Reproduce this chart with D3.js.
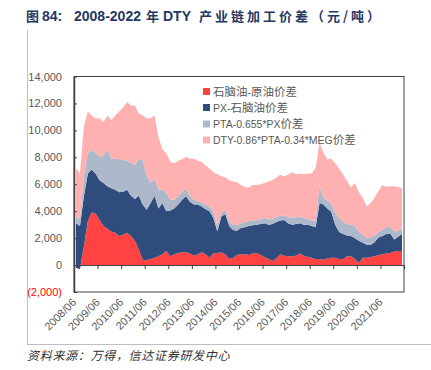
<!DOCTYPE html>
<html>
<head>
<meta charset="utf-8">
<script src="https://cdn.jsdelivr.net/npm/d3@7"></script>
<style>
body { margin: 0; background: #fff; }
svg { display: block; font-family: "Liberation Sans", Arial, "Noto Sans CJK SC", sans-serif; }
</style>
</head>
<body>
<div id="chart"></div>
<script>
// Width and height
var chart_width  = 431;
var chart_height = 370;

// Data (元/吨), one point every two months from 2008/06 to 2022/06
var series_names = ['石脑油-原油价差', 'PX-石脑油价差', 'PTA-0.655*PX价差', 'DTY-0.86*PTA-0.34*MEG价差'];
var series_colors = ['#FF4343', '#2F4C7C', '#ADB9CB', '#FFB0B0'];

var naphtha_crude = [
  -200, -300, 1400, 3250, 3900, 3850, 3350, 2900, 2700, 2500, 2400, 2150, 2250, 2400, 2150, 1800,
  1150, 400, 350, 450, 550, 650, 800, 1050, 650, 800, 900, 950, 950, 850, 700, 800,
  950, 800, 550, 850, 900, 950, 800, 450, 550, 750, 800, 800, 750, 850, 900, 750,
  600, 450, 300, 500, 800, 700, 650, 650, 700, 850, 700, 600, 550, 450, 450, 400,
  500, 550, 550, 450, 450, 650, 650, 450, 150, 550, 550, 600, 650, 750, 800, 850,
  900, 1000, 1050, 1050, 1000
];
var px_naphtha = [
  3300, 3200, 3700, 3550, 3200, 2950, 2950, 3200, 3150, 3200, 3200, 3250, 3200, 3200, 3000, 3100,
  4000, 4100, 3750, 4150, 4600, 3550, 3800, 2950, 3400, 3400, 3600, 3900, 4150, 3850, 3800, 3700,
  3400, 3350, 3450, 2650, 1600, 2650, 3000, 2450, 2050, 1800, 1950, 2000, 2150, 2100, 2100, 2300,
  2500, 2550, 2750, 2700, 2500, 2650, 2450, 2350, 2350, 2250, 2300, 2400, 2350, 2350, 4150, 4100,
  3700, 3400, 2450, 2000, 1850, 1550, 1500, 1550, 1650, 1100, 950, 900, 1050, 1300, 1350, 1450,
  1450, 900, 1050, 1250, 1500
];
var pta_px = [
  500, 500, 1500, 1500, 1400, 1600, 1700, 2050, 2750, 2200, 2300, 2450, 2350, 2150, 2450, 2550,
  2750, 3300, 2600, 1500, 1300, 1400, 1000, 1350, 800, 650, 600, 600, 600, 400, 350, 250,
  300, 350, 350, 500, 400, 300, 300, 350, 400, 400, 350, 400, 350, 350, 350, 350,
  400, 400, 350, 400, 350, 350, 450, 500, 500, 500, 500, 450, 400, 500, 1300, 500,
  550, 600, 900, 1050, 900, 850, 850, 900, 700, 600, 500, 550, 500, 400, 450, 500,
  500, 600, 450, 400, 400
];
var dty_pta_meg = [
  3600, 3400, 3700, 3100, 2600, 2500, 2900, 2450, 2500, 2850, 3200, 3550, 3900, 4350, 4250, 4400,
  3350, 3300, 4200, 4800, 4650, 3900, 3000, 2950, 2850, 2700, 2650, 2400, 2350, 2800, 3050, 3000,
  3000, 2900, 2800, 2900, 3850, 2700, 2400, 3050, 3200, 3200, 2850, 2600, 2500, 2650, 2600, 2600,
  2600, 2800, 2900, 2900, 3050, 2900, 3150, 3400, 3200, 3200, 3250, 3350, 3500, 3900, 3200, 3300,
  3100, 3350, 3650, 3650, 3500, 3200, 2750, 3200, 2900, 2750, 2350, 2550, 2800, 3050, 3350, 3000,
  3000, 3350, 3250, 3000, 2550
];
var series_values = [naphtha_crude, px_naphtha, pta_px, dty_pta_meg];

var dates = d3.timeMonth.every(2).range(new Date(2008, 5, 1), new Date(2022, 6, 1));

var x_labels = ['2008/06', '2009/06', '2010/06', '2011/06', '2012/06', '2013/06', '2014/06',
                '2015/06', '2016/06', '2017/06', '2018/06', '2019/06', '2020/06', '2021/06'];
var y_ticks  = [-2000, 0, 2000, 4000, 6000, 8000, 10000, 12000, 14000];

// Scales
var x = d3.scaleTime()
  .domain([new Date(2008, 5, 1), new Date(2022, 5, 1)])
  .range([74, 404]);
var y = d3.scaleLinear()
  .domain([-2000, 14000])
  .range([292, 76.5]);

var svg = d3.select('#chart')
  .append('svg')
  .attr('width', chart_width)
  .attr('height', chart_height);

// splits a label into CJK / latin runs so the CJK glyphs can be a bit larger
function runs(str){
  var out = [], re = /[\u3000-\u9fff\uff00-\uffef]+|[^\u3000-\u9fff\uff00-\uffef]+/g, m;
  while((m = re.exec(str)) !== null){
    out.push({ t: m[0], cjk: /[\u3000-\u9fff\uff00-\uffef]/.test(m[0]) });
  }
  return out;
}

// Title (pieces placed like the original, CJK is spaced wider)
var title_parts = [
  { t: '图', x: 26, cjk: true },
  { t: '84:', x: 42, cjk: false },
  { t: '2008-2022', x: 74, cjk: false },
  { t: '年', x: 146, cjk: true },
  { t: 'DTY', x: 163, cjk: false },
  { t: '产业链加工价差', x: 199, cjk: true },
  { t: '（元/吨）', x: 311, cjk: true }
];
var title = svg.append('text')
  .attr('y', 21)
  .attr('font-weight', 'bold')
  .attr('fill', '#1F3864');
title.selectAll('tspan')
  .data(title_parts)
  .enter()
  .append('tspan')
  .attr('x', function(d){ return d.x; })
  .attr('font-size', function(d){ return d.cjk ? 13 : 14; })
  .attr('letter-spacing', function(d){ return d.cjk ? 3 : 0; })
  .attr('font-family', function(d){ return d.cjk ? '"Noto Sans CJK SC", sans-serif' : '"Liberation Sans", Arial, sans-serif'; })
  .text(function(d){ return d.t; });

// outer frame lines
svg.append('line')
  .attr('x1', 27.5).attr('x2', 27.5)
  .attr('y1', 30).attr('y2', 345)
  .attr('stroke', '#BFBFBF');
svg.append('line')
  .attr('x1', 27).attr('x2', 431)
  .attr('y1', 344.5).attr('y2', 344.5)
  .attr('stroke', '#BFBFBF');

// Stack
var rows = dates.map(function(d, i){
  var r = { date: d };
  series_names.forEach(function(n, j){ r[n] = series_values[j][i]; });
  return r;
});
var stacked = d3.stack().keys(series_names)(rows);

var area = d3.area()
  .x(function(d){ return x(d.data.date); })
  .y0(function(d){ return y(d[0]); })
  .y1(function(d){ return y(d[1]); });

svg.append('g')
  .selectAll('path')
  .data(stacked)
  .enter()
  .append('path')
  .attr('d', area)
  .attr('fill', function(d, i){ return series_colors[i]; });

// plot box
svg.append('rect')
  .attr('x', 74).attr('y', 76.5)
  .attr('width', 330).attr('height', 215.5)
  .attr('fill', 'none')
  .attr('stroke', '#404040')
  .attr('stroke-width', 1);

// y axis
var fmt = d3.format(',');
var y_axis = svg.append('g')
  .attr('transform', 'translate(74,0)')
  .call(d3.axisLeft(y)
    .tickValues(y_ticks)
    .tickSize(-3)
    .tickSizeOuter(0)
    .tickPadding(12)
    .tickFormat(function(d){ return d < 0 ? '(' + fmt(-d) + ')' : fmt(d); }));
y_axis.select('.domain').attr('stroke', '#404040').attr('stroke-width', 1.5);
y_axis.selectAll('.tick line').attr('stroke', '#404040');
y_axis.selectAll('.tick text')
  .attr('font-size', 11)
  .attr('font-family', '"Liberation Sans", Arial, sans-serif')
  .attr('fill', function(d){ return d < 0 ? '#FF0000' : '#595959'; });

// x axis at zero
var tick_dates = x_labels.map(function(s){ return new Date(+s.slice(0, 4), 5, 1); });
var x_axis = svg.append('g')
  .attr('transform', 'translate(0,' + y(0) + ')')
  .call(d3.axisBottom(x)
    .tickValues(tick_dates.concat([new Date(2022, 5, 1)]))
    .tickSize(4)
    .tickSizeOuter(0)
    .tickFormat(''));
x_axis.select('.domain').attr('stroke', '#404040');
x_axis.selectAll('.tick line').attr('stroke', '#404040');

svg.append('g')
  .selectAll('text')
  .data(x_labels)
  .enter()
  .append('text')
  .attr('transform', function(d, i){
    return 'translate(' + (x(tick_dates[i]) + 3) + ',303) rotate(-45)';
  })
  .attr('text-anchor', 'end')
  .attr('font-size', 11)
  .attr('fill', '#595959')
  .text(function(d){ return d; });

// Legend
var legend = svg.append('g')
  .selectAll('g')
  .data(series_names)
  .enter()
  .append('g')
  .attr('transform', function(d, i){ return 'translate(203,' + [91.5, 107.5, 124, 140][i] + ')'; });
legend.append('rect')
  .attr('x', 0).attr('y', -3.5)
  .attr('width', 7).attr('height', 7)
  .attr('fill', function(d, i){ return series_colors[i]; });
legend.append('text')
  .attr('x', 10)
  .attr('y', 4)
  .attr('fill', '#595959')
  .selectAll('tspan')
  .data(function(d){ return runs(d); })
  .enter()
  .append('tspan')
  .attr('font-size', function(d){ return d.cjk ? 11.5 : 10.5; })
  .text(function(d){ return d.t; });

// Source
svg.append('text')
  .attr('x', 27)
  .attr('y', 360)
  .attr('font-size', 12)
  .attr('letter-spacing', 0.7)
  .attr('font-style', 'italic')
  .attr('fill', '#333')
  .attr('font-family', '"Noto Sans CJK SC", sans-serif')
  .text('资料来源：万得，信达证券研发中心');
</script>
</body>
</html>
